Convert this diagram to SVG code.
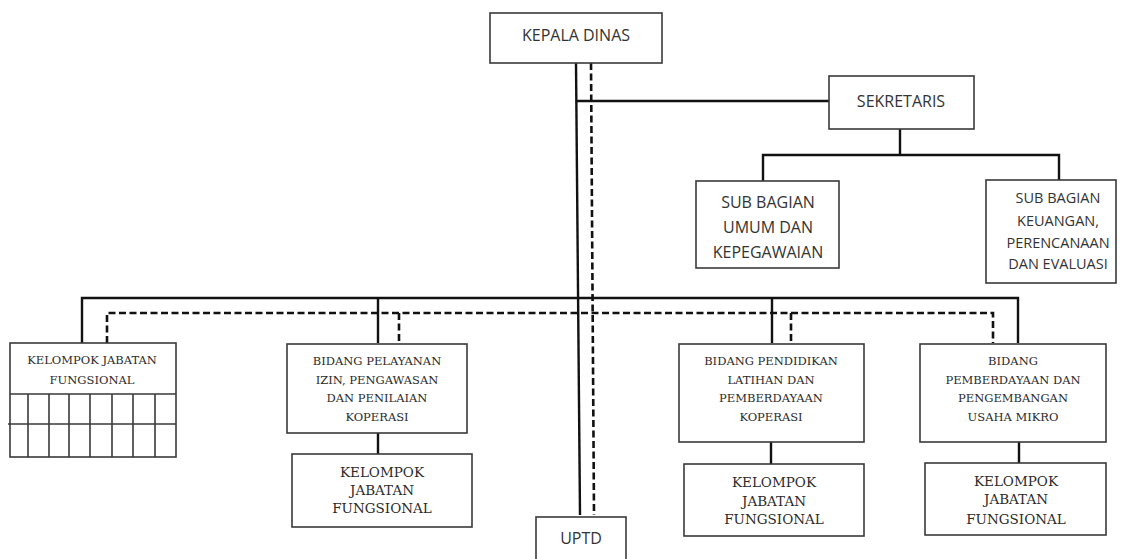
<svg xmlns="http://www.w3.org/2000/svg" width="1121" height="559" viewBox="0 0 1121 559">
<defs>
<style>
.box{fill:#fff;stroke:#3a3a3a;stroke-width:1.6}
.sans{font-family:"Open Sans","Liberation Sans",sans-serif;font-size:16px;fill:#333;text-anchor:middle}
.sm{font-size:14.5px}
.serif{font-family:"DejaVu Serif","Liberation Serif",serif;font-size:11.5px;fill:#2a2a2a;text-anchor:middle}
.serif2{font-family:"DejaVu Serif","Liberation Serif",serif;font-size:13.5px;fill:#2a2a2a;text-anchor:middle}
.solid{fill:none;stroke:#111;stroke-width:2.4}
.dash{fill:none;stroke:#111;stroke-width:2.6;stroke-dasharray:7,3.5}
.grid{stroke:#3a3a3a;stroke-width:1.6}
</style>
</defs>
<rect width="1121" height="559" fill="#fff"/>
<g id="connectors">
<path class="solid" d="M576,63 L580,515"/>
<path class="dash" d="M591,63 L594,515"/>
<path class="solid" d="M576,101 H829"/>
<path class="solid" d="M900,129 V155 M763,181 V155 H1059 V180"/>
<path class="solid" d="M82,343 V298 H1018 V343"/>
<path class="solid" d="M378,298 V343 M772,298 V343"/>
<path class="dash" d="M107,343 V313 H993 V343"/>
<path class="dash" d="M399,313 V343 M791,313 V343"/>
<path class="solid" d="M378,433 V454 M771,442 V464 M1019,442 V463"/>
</g>
<g id="kepala">
<rect class="box" x="490" y="13" width="172" height="50"/>
<text class="sans" x="576" y="41">KEPALA DINAS</text>
</g>
<g id="sekretaris">
<rect class="box" x="829" y="76" width="145" height="53"/>
<text class="sans" x="901" y="107">SEKRETARIS</text>
</g>
<g id="subbag-umum">
<rect class="box" x="696" y="181" width="143" height="87"/>
<text class="sans" x="768" y="208">SUB BAGIAN</text>
<text class="sans" x="768" y="233">UMUM DAN</text>
<text class="sans" x="768" y="258">KEPEGAWAIAN</text>
</g>
<g id="subbag-keuangan">
<rect class="box" x="986" y="180" width="130" height="103"/>
<text class="sans sm" x="1058" y="203">SUB BAGIAN</text>
<text class="sans sm" x="1058" y="226">KEUANGAN,</text>
<text class="sans sm" x="1058" y="248">PERENCANAAN</text>
<text class="sans sm" x="1058" y="269">DAN EVALUASI</text>
</g>
<g id="kjf-left">
<rect class="box" x="10" y="343" width="166" height="114"/>
<text class="serif" x="92" y="364">KELOMPOK JABATAN</text>
<text class="serif" x="92" y="384">FUNGSIONAL</text>
<path class="grid" d="M10,394 H176 M8,424 H176 M28,394 V457 M49,394 V457 M69,394 V457 M90,394 V457 M112,394 V457 M133,394 V457 M155,394 V457"/>
</g>
<g id="bidang-pelayanan">
<rect class="box" x="287" y="344" width="180" height="89"/>
<text class="serif" x="377" y="365">BIDANG PELAYANAN</text>
<text class="serif" x="377" y="384">IZIN, PENGAWASAN</text>
<text class="serif" x="377" y="402">DAN PENILAIAN</text>
<text class="serif" x="377" y="421">KOPERASI</text>
</g>
<g id="kjf-pelayanan">
<rect class="box" x="292" y="454" width="180" height="73"/>
<text class="serif2" x="382" y="477">KELOMPOK</text>
<text class="serif2" x="382" y="495">JABATAN</text>
<text class="serif2" x="382" y="513">FUNGSIONAL</text>
</g>
<g id="bidang-pendidikan">
<rect class="box" x="679" y="344" width="185" height="98"/>
<text class="serif" x="771" y="365">BIDANG PENDIDIKAN</text>
<text class="serif" x="771" y="384">LATIHAN DAN</text>
<text class="serif" x="771" y="402">PEMBERDAYAAN</text>
<text class="serif" x="771" y="421">KOPERASI</text>
</g>
<g id="kjf-pendidikan">
<rect class="box" x="684" y="464" width="180" height="72"/>
<text class="serif2" x="774" y="487">KELOMPOK</text>
<text class="serif2" x="774" y="506">JABATAN</text>
<text class="serif2" x="774" y="524">FUNGSIONAL</text>
</g>
<g id="bidang-pemberdayaan">
<rect class="box" x="920" y="344" width="186" height="98"/>
<text class="serif" x="1013" y="365">BIDANG</text>
<text class="serif" x="1013" y="384">PEMBERDAYAAN DAN</text>
<text class="serif" x="1013" y="402">PENGEMBANGAN</text>
<text class="serif" x="1013" y="421">USAHA MIKRO</text>
</g>
<g id="kjf-pemberdayaan">
<rect class="box" x="925" y="463" width="181" height="72"/>
<text class="serif2" x="1016" y="486">KELOMPOK</text>
<text class="serif2" x="1016" y="504">JABATAN</text>
<text class="serif2" x="1016" y="524">FUNGSIONAL</text>
</g>
<g id="uptd">
<rect class="box" x="536" y="517" width="90" height="50"/>
<text class="sans" x="581" y="544">UPTD</text>
</g>
</svg>
